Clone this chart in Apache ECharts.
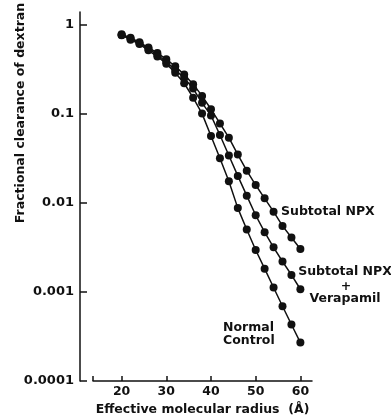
<!DOCTYPE html>
<html>
<head>
<meta charset="utf-8">
<script src="https://cdn.jsdelivr.net/npm/echarts@6/dist/echarts.min.js"></script>
<style>
  html, body { margin: 0; padding: 0; background: #fff; }
  #chart { width: 391px; height: 419px; }
</style>
</head>
<body>
<div id="chart"></div>
<script>
// effective molecular radius (Å)
var radius = [20, 22, 24, 26, 28, 30, 32, 34, 36, 38, 40, 42, 44, 46, 48, 50, 52, 54, 56, 58, 60];

// fractional clearance of dextran
var subtotalNpx = [0.776, 0.708, 0.631, 0.55, 0.479, 0.407, 0.339, 0.275, 0.214, 0.158, 0.112,
    0.0776, 0.0537, 0.0347, 0.0229, 0.0158, 0.0112, 0.00794, 0.0055, 0.00407, 0.00302];
var subtotalVerapamil = [0.76, 0.692, 0.617, 0.537, 0.457, 0.38, 0.309, 0.251, 0.191, 0.132, 0.0955,
    0.0575, 0.0339, 0.02, 0.012, 0.00724, 0.00468, 0.00316, 0.00219, 0.00155, 0.00107];
var normalControl = [0.759, 0.676, 0.603, 0.513, 0.437, 0.363, 0.288, 0.219, 0.151, 0.1, 0.0562,
    0.0316, 0.0174, 0.0087, 0.005, 0.00295, 0.00182, 0.00112, 0.00069, 0.00043, 0.00027];

var xTicks = [20, 30, 40, 50, 60];
var yTicks = [0.0001, 0.001, 0.01, 0.1, 1];

var ink = "#111";
var font = "DejaVu Sans";

function pairs(ys) {
    return radius.map(function (r, i) { return [r, ys[i]]; });
}

function makeSeries(name, ys) {
    return {
        name: name,
        type: "line",
        data: pairs(ys),
        symbol: "circle",
        symbolSize: 8,
        itemStyle: { color: ink },
        lineStyle: { color: ink, width: 1.5 },
        emphasis: { disabled: true },
        z: 3
    };
}

function label(text, x, y, align) {
    return {
        type: "text",
        x: x,
        y: y,
        style: {
            text: text,
            fill: ink,
            font: "bold 12.5px '" + font + "'",
            textAlign: align || "left",
            textVerticalAlign: "middle"
        }
    };
}

var chart = echarts.init(document.getElementById("chart"));
chart.setOption({
    backgroundColor: "#fff",
    animation: false,
    // grid 0 holds the data and the full-height y axis line,
    // grid 1 only carries the decade ticks (1 ... 0.0001)
    grid: [
        { left: 93, right: 79, top: 12, bottom: 38, outerBoundsMode: "none" },
        { left: 93, right: 79, top: 24.5, bottom: 38, outerBoundsMode: "none" }
    ],
    xAxis: [{
        type: "value",
        min: 13.6,
        max: 62.6,
        name: "Effective molecular radius  (Å)",
        nameLocation: "middle",
        nameGap: 17,
        nameTextStyle: { color: ink, fontFamily: font, fontWeight: "bold", fontSize: 12.5 },
        axisLine: { lineStyle: { color: ink, width: 1.5 } },
        axisTick: { inside: true, length: 5, lineStyle: { color: ink, width: 1.5 }, customValues: [13.6].concat(xTicks) },
        axisLabel: { color: ink, fontFamily: font, fontWeight: "bold", fontSize: 12.5, margin: 4, customValues: xTicks },
        splitLine: { show: false }
    }, {
        type: "value",
        gridIndex: 1,
        min: 13.6,
        max: 62.6,
        show: false
    }],
    yAxis: [{
        type: "log",
        min: 0.0001,
        max: 1.38,
        offset: 13,
        axisLine: { show: true, lineStyle: { color: ink, width: 1.5 } },
        axisTick: { show: false },
        axisLabel: {
            color: ink, fontFamily: font, fontWeight: "bold", fontSize: 13, margin: 6,
            customValues: yTicks,
            formatter: function (v) { return String(+v.toPrecision(3)); }
        },
        splitLine: { show: false }
    }, {
        type: "log",
        gridIndex: 1,
        min: 0.0001,
        max: 1,
        offset: 13,
        axisLine: { show: false },
        axisTick: { show: true, inside: true, length: 7, lineStyle: { color: ink, width: 1.5 } },
        axisLabel: { show: false },
        splitLine: { show: false }
    }],
    graphic: [
        {
            type: "text",
            x: 21,
            y: 113,
            rotation: Math.PI / 2,
            style: {
                text: "Fractional clearance of dextran",
                fill: ink,
                font: "bold 12.5px '" + font + "'",
                textAlign: "center",
                textVerticalAlign: "middle"
            }
        },
        label("Subtotal NPX", 281, 212),
        label("Subtotal NPX", 345, 272, "center"),
        label("+", 346, 287, "center"),
        label("Verapamil", 345, 299, "center"),
        label("Normal", 223, 328),
        label("Control", 223, 341)
    ],
    series: [
        makeSeries("Subtotal NPX", subtotalNpx),
        makeSeries("Subtotal NPX + Verapamil", subtotalVerapamil),
        makeSeries("Normal Control", normalControl)
    ]
});
</script>
</body>
</html>
